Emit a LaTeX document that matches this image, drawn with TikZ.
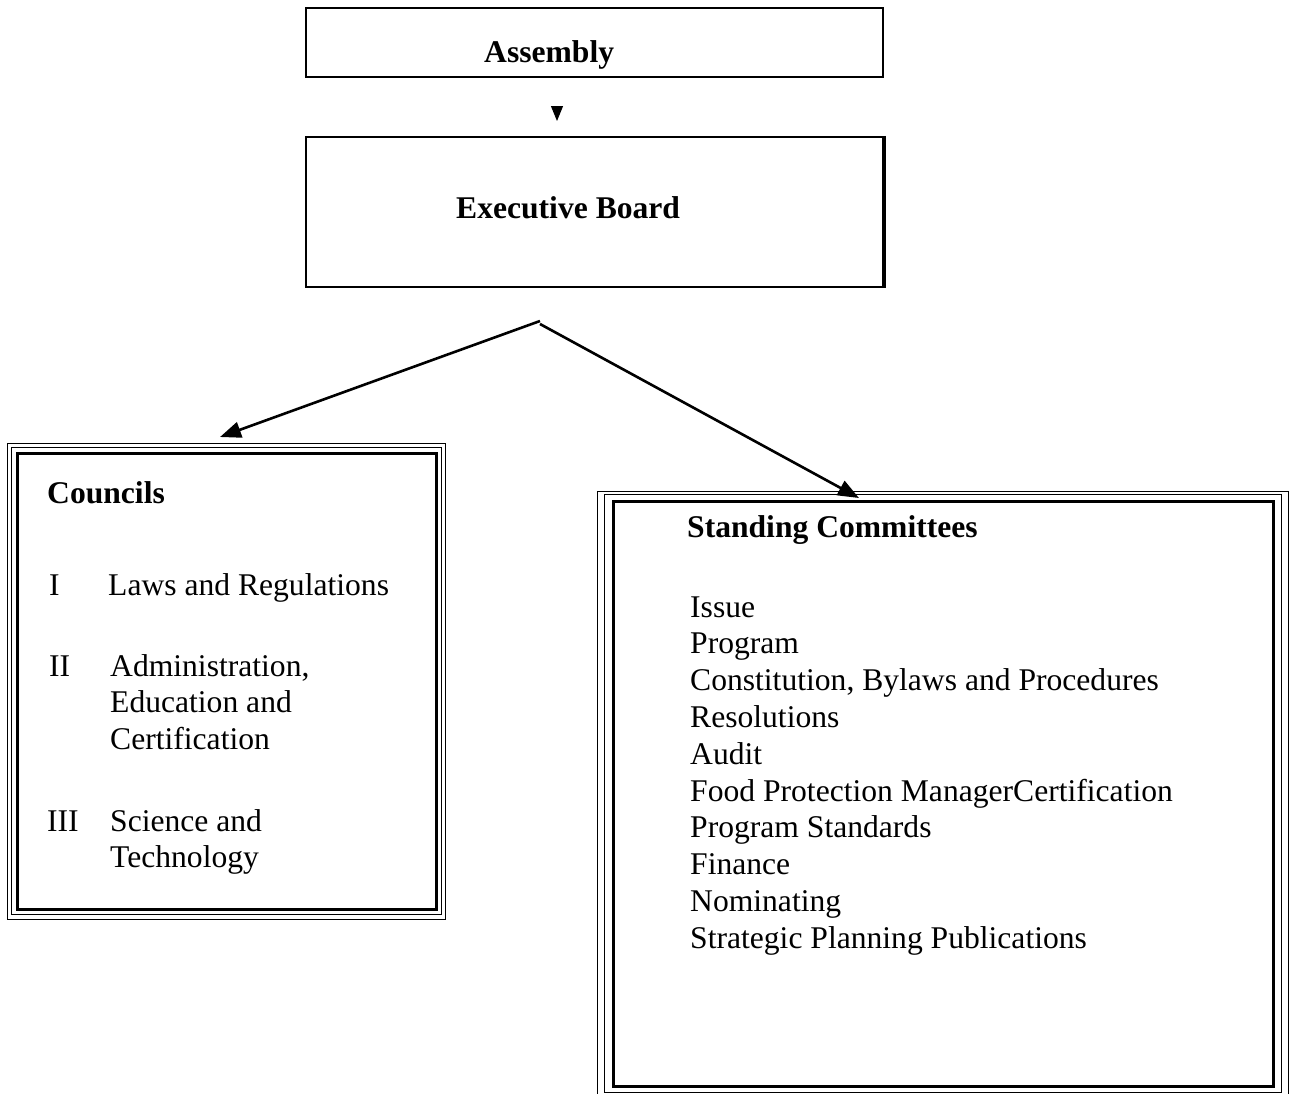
\documentclass[tikz,border=0pt]{standalone}
\usepackage{fontspec}
\setmainfont{Liberation Serif}
\usetikzlibrary{arrows.meta}
\begin{document}
\begin{tikzpicture}[x=1pt,y=-1pt,
  txt/.style={anchor=base west, inner sep=0pt, font=\fontsize{31.6}{36.8}\selectfont},
  btxt/.style={anchor=base west, inner sep=0pt, font=\fontsize{31.6}{36.8}\selectfont\bfseries},
  plainbox/.style={draw, line width=2.8pt, inner sep=0pt},
  innerbox/.style={draw, line width=3pt, inner sep=0pt},
  thinline/.style={line width=1.8pt},
  conn/.style={line width=2.6pt, -{Triangle[length=21pt,width=16pt]}},
]
\useasboundingbox[fill=white] (0,0) rectangle (1293,1093);

% Assembly
\node[plainbox, minimum width=577pt, minimum height=69pt] (asm) at (594.5,42.5) {};
\node[btxt] (asmT) at (484,62) {Assembly};

% Executive Board
\node[plainbox, line width=2.3pt, minimum width=577pt, minimum height=150pt] (ex) at (594.5,212) {};
\draw[line width=3.6pt] (ex.north east) -- (ex.south east);
\node[btxt] (exT) at (456,218) {Executive Board};

% small arrowhead between Assembly and Executive Board
\coordinate (asmA) at (557,77);
\coordinate (exA) at (557,138);
\draw[line width=1pt, -{Triangle[length=15pt,width=12pt]}, shorten <=29pt, shorten >=17pt] (asmA) -- (exA);

% Councils box (triple border)
\node[innerbox, minimum width=419pt, minimum height=456pt] (cI) at (226.5,681) {};
\draw[thinline] ([shift={(-4pt,-4pt)}]cI.south west) rectangle ([shift={(4pt,4pt)}]cI.north east);
\draw[thinline] ([shift={(-8pt,-9pt)}]cI.south west) rectangle ([shift={(8pt,8pt)}]cI.north east);

% Standing Committees box (triple border)
\node[innerbox, minimum width=660pt, minimum height=585pt] (sI) at (943,793.5) {};
\draw[thinline] ([shift={(-7pt,-5pt)}]sI.south west) rectangle ([shift={(7pt,5pt)}]sI.north east);
\draw[thinline] ([shift={(-14pt,-9pt)}]sI.south west) rectangle ([shift={(14pt,8pt)}]sI.north east);

% connectors
\coordinate (splitL) at (540,321);
\coordinate (splitR) at (540,324);
\coordinate (cTip) at (220,437);
\coordinate (sTip) at (859,498);
\draw[conn] (splitL) -- (cTip);
\draw[conn] (splitR) -- (sTip);

% Councils text
\node[btxt] (cTitle) at (47,503) {Councils};
\node[txt] (n1) at (49,595) {I};
\node[txt] (c1) at (108,595) {Laws and Regulations};
\node[txt] (n2) at (49,676) {II};
\node[txt] (c2a) at (110,676) {Administration,};
\node[txt] (c2b) at (110,712.8) {Education and};
\node[txt] (c2c) at (110,749.6) {Certification};
\node[txt] (n3) at (47,831) {III};
\node[txt] (c3a) at (110,831) {Science and};
\node[txt] (c3b) at (110,867.8) {Technology};

% Standing Committees text
\node[btxt] (sTitle) at (687,537) {Standing Committees};
\foreach \t [count=\i from 0] in {Issue, Program, {Constitution, Bylaws and Procedures}, Resolutions, Audit, Food Protection ManagerCertification, Program Standards, Finance, Nominating, Strategic Planning Publications}
  \node[txt] (s\i) at (690,617+36.8*\i) {\t};
\end{tikzpicture}
\end{document}
